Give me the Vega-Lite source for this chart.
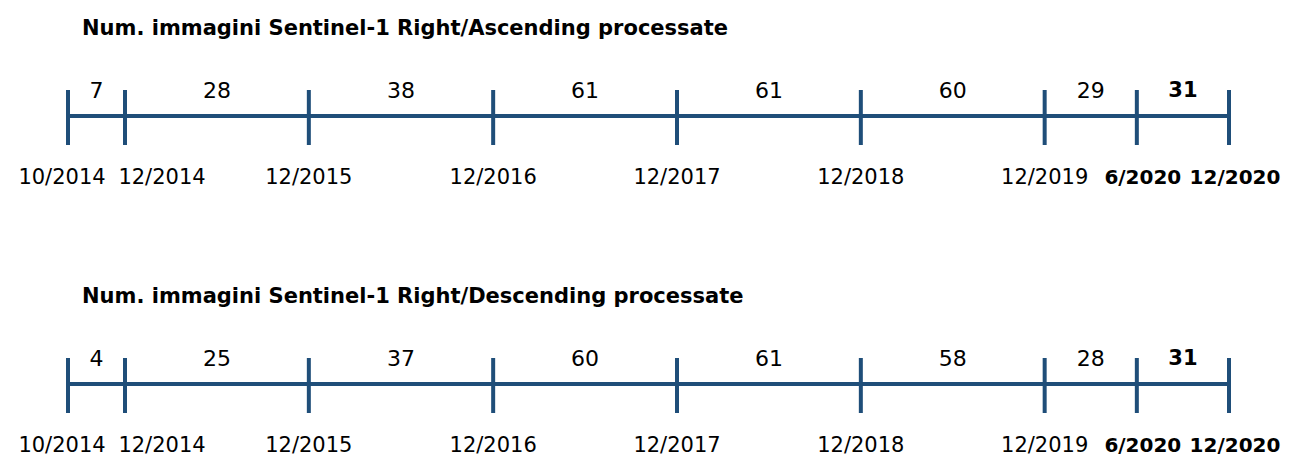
{
  "$schema": "https://vega.github.io/schema/vega-lite/v6.json",
  "width": 1291,
  "height": 456,
  "autosize": {"type": "fit", "contains": "padding"},
  "padding": 0,
  "background": "white",
  "config": {"view": {"stroke": null}, "font": "DejaVu Sans", "text": {"font": "DejaVu Sans", "color": "#000000"}},
  "datasets": {
    "points": [
      {"series": "Right/Ascending", "date": "2014-10-01"},
      {"series": "Right/Ascending", "date": "2014-12-01"},
      {"series": "Right/Ascending", "date": "2015-12-01"},
      {"series": "Right/Ascending", "date": "2016-12-01"},
      {"series": "Right/Ascending", "date": "2017-12-01"},
      {"series": "Right/Ascending", "date": "2018-12-01"},
      {"series": "Right/Ascending", "date": "2019-12-01"},
      {"series": "Right/Ascending", "date": "2020-06-01"},
      {"series": "Right/Ascending", "date": "2020-12-01"},
      {"series": "Right/Descending", "date": "2014-10-01"},
      {"series": "Right/Descending", "date": "2014-12-01"},
      {"series": "Right/Descending", "date": "2015-12-01"},
      {"series": "Right/Descending", "date": "2016-12-01"},
      {"series": "Right/Descending", "date": "2017-12-01"},
      {"series": "Right/Descending", "date": "2018-12-01"},
      {"series": "Right/Descending", "date": "2019-12-01"},
      {"series": "Right/Descending", "date": "2020-06-01"},
      {"series": "Right/Descending", "date": "2020-12-01"}
    ],
    "segments": [
      {"series": "Right/Ascending", "start": "2014-10-01", "end": "2014-12-01", "count": 7},
      {"series": "Right/Ascending", "start": "2014-12-01", "end": "2015-12-01", "count": 28},
      {"series": "Right/Ascending", "start": "2015-12-01", "end": "2016-12-01", "count": 38},
      {"series": "Right/Ascending", "start": "2016-12-01", "end": "2017-12-01", "count": 61},
      {"series": "Right/Ascending", "start": "2017-12-01", "end": "2018-12-01", "count": 61},
      {"series": "Right/Ascending", "start": "2018-12-01", "end": "2019-12-01", "count": 60},
      {"series": "Right/Ascending", "start": "2019-12-01", "end": "2020-06-01", "count": 29},
      {"series": "Right/Ascending", "start": "2020-06-01", "end": "2020-12-01", "count": 31},
      {"series": "Right/Descending", "start": "2014-10-01", "end": "2014-12-01", "count": 4},
      {"series": "Right/Descending", "start": "2014-12-01", "end": "2015-12-01", "count": 25},
      {"series": "Right/Descending", "start": "2015-12-01", "end": "2016-12-01", "count": 37},
      {"series": "Right/Descending", "start": "2016-12-01", "end": "2017-12-01", "count": 60},
      {"series": "Right/Descending", "start": "2017-12-01", "end": "2018-12-01", "count": 61},
      {"series": "Right/Descending", "start": "2018-12-01", "end": "2019-12-01", "count": 58},
      {"series": "Right/Descending", "start": "2019-12-01", "end": "2020-06-01", "count": 28},
      {"series": "Right/Descending", "start": "2020-06-01", "end": "2020-12-01", "count": 31}
    ],
    "titles": [
      {"series": "Right/Ascending", "start": "2014-10-01", "title": "Num. immagini Sentinel-1 Right/Ascending processate"},
      {"series": "Right/Descending", "start": "2014-10-01", "title": "Num. immagini Sentinel-1 Right/Descending processate"}
    ]
  },
  "encoding": {
    "y": {
      "field": "series",
      "type": "nominal",
      "scale": {"type": "point", "padding": 0, "domain": ["Right/Ascending", "Right/Descending"], "range": [116, 384]},
      "axis": null
    }
  },
  "layer": [
    {
      "data": {"name": "segments", "format": {"parse": {"start": "date", "end": "date"}}},
      "mark": {"type": "rule", "color": "#1f4e79", "strokeWidth": 4, "strokeCap": "butt"},
      "encoding": {
        "x": {
          "field": "start",
          "type": "quantitative",
          "axis": null,
          "scale": {"type": "linear", "zero": false, "nice": false, "domain": [1412121600000, 1417392000000, 1606780800000], "range": [68, 125, 1229]}
        },
        "x2": {"field": "end"}
      }
    },
    {
      "data": {"name": "points", "format": {"parse": {"date": "date"}}},
      "mark": {"type": "rule", "color": "#1f4e79", "strokeWidth": 4, "strokeCap": "butt", "yOffset": -26, "y2Offset": 29},
      "encoding": {
        "x": {
          "field": "date",
          "type": "quantitative",
          "axis": null,
          "scale": {"type": "linear", "zero": false, "nice": false, "domain": [1412121600000, 1417392000000, 1606780800000], "range": [68, 125, 1229]}
        },
        "y2": {"field": "series"}
      }
    },
    {
      "data": {"name": "points", "format": {"parse": {"date": "date"}}},
      "transform": [{"filter": "utcyear(datum.date) > 2014 && utcyear(datum.date) < 2020"}],
      "mark": {"type": "text", "fontSize": 21, "baseline": "middle", "align": "center", "dy": 62},
      "encoding": {
        "x": {
          "field": "date",
          "type": "quantitative",
          "axis": null,
          "scale": {"type": "linear", "zero": false, "nice": false, "domain": [1412121600000, 1417392000000, 1606780800000], "range": [68, 125, 1229]}
        },
        "text": {"field": "date", "timeUnit": "utcyearmonth", "type": "temporal", "format": "%-m/%Y"}
      }
    },
    {
      "data": {"name": "points", "format": {"parse": {"date": "date"}}},
      "transform": [{"filter": "utcyear(datum.date) == 2014 && utcmonth(datum.date) == 9"}],
      "mark": {"type": "text", "fontSize": 21, "baseline": "middle", "align": "center", "dy": 62, "dx": -6},
      "encoding": {
        "x": {
          "field": "date",
          "type": "quantitative",
          "axis": null,
          "scale": {"type": "linear", "zero": false, "nice": false, "domain": [1412121600000, 1417392000000, 1606780800000], "range": [68, 125, 1229]}
        },
        "text": {"field": "date", "timeUnit": "utcyearmonth", "type": "temporal", "format": "%-m/%Y"}
      }
    },
    {
      "data": {"name": "points", "format": {"parse": {"date": "date"}}},
      "transform": [{"filter": "utcyear(datum.date) == 2014 && utcmonth(datum.date) == 11"}],
      "mark": {"type": "text", "fontSize": 21, "baseline": "middle", "align": "center", "dy": 62, "dx": 37},
      "encoding": {
        "x": {
          "field": "date",
          "type": "quantitative",
          "axis": null,
          "scale": {"type": "linear", "zero": false, "nice": false, "domain": [1412121600000, 1417392000000, 1606780800000], "range": [68, 125, 1229]}
        },
        "text": {"field": "date", "timeUnit": "utcyearmonth", "type": "temporal", "format": "%-m/%Y"}
      }
    },
    {
      "data": {"name": "points", "format": {"parse": {"date": "date"}}},
      "transform": [{"filter": "utcyear(datum.date) == 2020"}],
      "mark": {"type": "text", "fontSize": 20, "fontWeight": "bold", "baseline": "middle", "align": "center", "dy": 62, "dx": 6},
      "encoding": {
        "x": {
          "field": "date",
          "type": "quantitative",
          "axis": null,
          "scale": {"type": "linear", "zero": false, "nice": false, "domain": [1412121600000, 1417392000000, 1606780800000], "range": [68, 125, 1229]}
        },
        "text": {"field": "date", "timeUnit": "utcyearmonth", "type": "temporal", "format": "%-m/%Y"}
      }
    },
    {
      "data": {"name": "segments", "format": {"parse": {"start": "date", "end": "date"}}},
      "transform": [
        {"filter": "utcyear(datum.start) < 2020"},
        {"fold": ["start", "end"]}
      ],
      "mark": {"type": "text", "fontSize": 22, "baseline": "middle", "align": "center", "dy": -25},
      "encoding": {
        "x": {
          "aggregate": "mean",
          "field": "value",
          "type": "quantitative",
          "axis": null,
          "scale": {"type": "linear", "zero": false, "nice": false, "domain": [1412121600000, 1417392000000, 1606780800000], "range": [68, 125, 1229]}
        },
        "text": {"field": "count", "type": "quantitative"},
        "detail": {"field": "end", "type": "nominal"}
      }
    },
    {
      "data": {"name": "segments", "format": {"parse": {"start": "date", "end": "date"}}},
      "transform": [
        {"filter": "utcyear(datum.start) == 2020"},
        {"fold": ["start", "end"]}
      ],
      "mark": {"type": "text", "fontSize": 21, "fontWeight": "bold", "baseline": "middle", "align": "center", "dy": -25},
      "encoding": {
        "x": {
          "aggregate": "mean",
          "field": "value",
          "type": "quantitative",
          "axis": null,
          "scale": {"type": "linear", "zero": false, "nice": false, "domain": [1412121600000, 1417392000000, 1606780800000], "range": [68, 125, 1229]}
        },
        "text": {"field": "count", "type": "quantitative"},
        "detail": {"field": "end", "type": "nominal"}
      }
    },
    {
      "data": {"name": "titles", "format": {"parse": {"start": "date"}}},
      "mark": {"type": "text", "fontSize": 21, "fontWeight": "bold", "baseline": "middle", "align": "left", "dx": 14, "dy": -87},
      "encoding": {
        "x": {
          "field": "start",
          "type": "quantitative",
          "axis": null,
          "scale": {"type": "linear", "zero": false, "nice": false, "domain": [1412121600000, 1417392000000, 1606780800000], "range": [68, 125, 1229]}
        },
        "text": {"field": "title", "type": "nominal"}
      }
    }
  ]
}
